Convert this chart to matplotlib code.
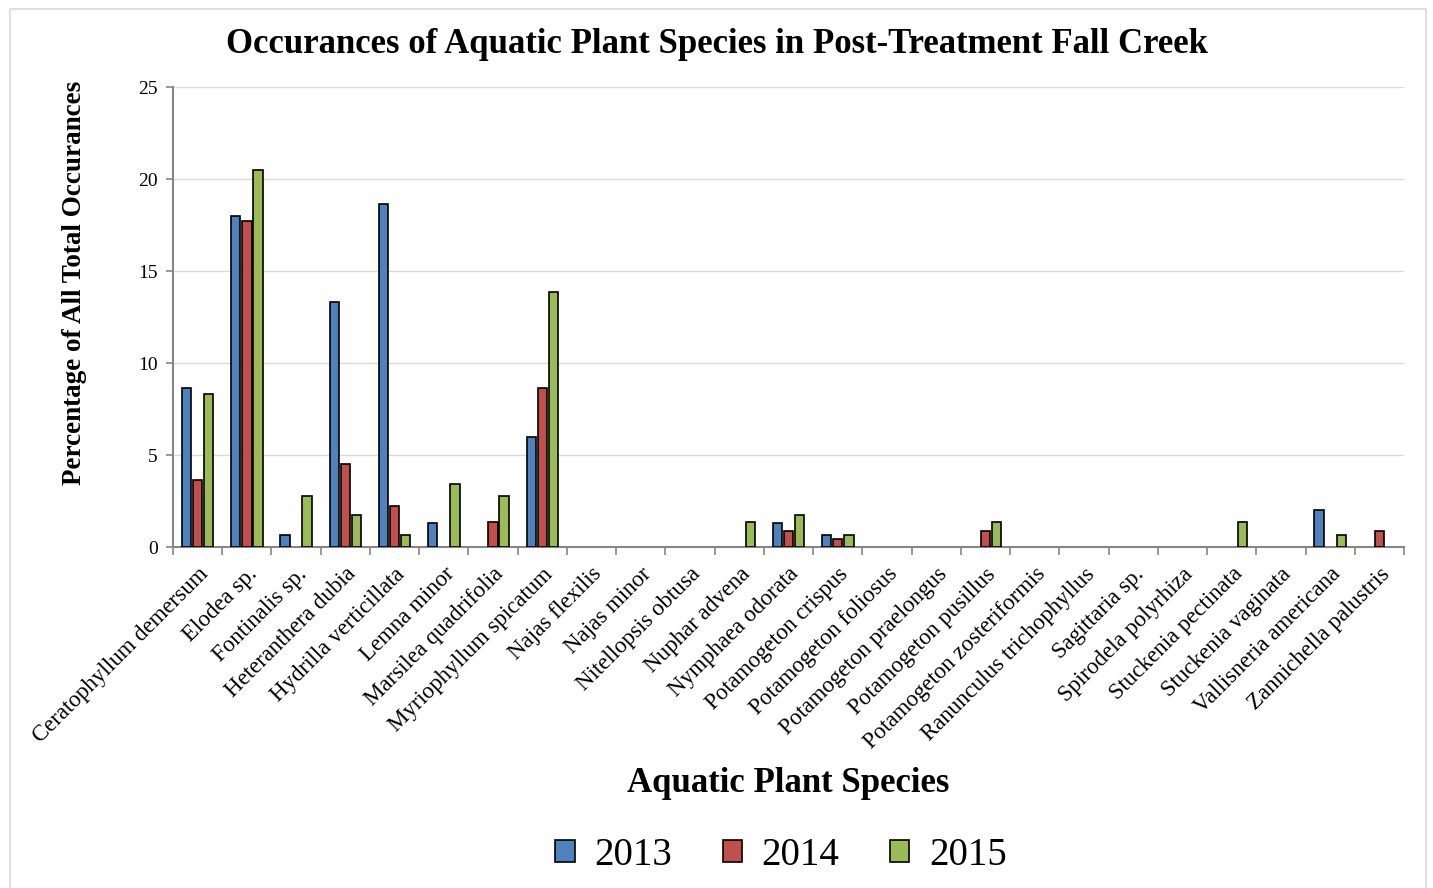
import numpy as np
import matplotlib.pyplot as plt
from matplotlib.patches import Rectangle

species = [
    "Ceratophyllum demersum", "Elodea sp.", "Fontinalis sp.", "Heteranthera dubia",
    "Hydrilla verticillata", "Lemna minor", "Marsilea quadrifolia",
    "Myriophyllum spicatum", "Najas flexilis", "Najas minor", "Nitellopsis obtusa",
    "Nuphar advena", "Nymphaea odorata", "Potamogeton crispus",
    "Potamogeton foliosus", "Potamogeton praelongus", "Potamogeton pusillus",
    "Potamogeton zosteriformis", "Ranunculus trichophyllus", "Sagittaria sp.",
    "Spirodela polyrhiza", "Stuckenia pectinata", "Stuckenia vaginata",
    "Vallisneria americana", "Zannichella palustris",
]
years = ["2013", "2014", "2015"]

vals_2013 = [8.65, 17.97, 0.65, 13.33, 18.65, 1.32, 0.0, 6.0, 0, 0, 0, 0.0, 1.32, 0.65,
             0, 0, 0.0, 0, 0, 0, 0, 0.0, 0, 1.99, 0.0]
vals_2014 = [3.62, 17.7, 0.0, 4.52, 2.24, 0.0, 1.34, 8.62, 0, 0, 0, 0.0, 0.89, 0.43,
             0, 0, 0.89, 0, 0, 0, 0, 0.0, 0, 0.0, 0.89]
vals_2015 = [8.32, 20.47, 2.77, 1.72, 0.67, 3.45, 2.77, 13.87, 0, 0, 0, 1.36, 1.74, 0.67,
             0, 0, 1.36, 0, 0, 0, 0, 1.36, 0, 0.67, 0.0]

colores = ["#4f81bd", "#c0504d", "#9bbb59"]

plt.rcParams["font.family"] = ["Liberation Serif", "DejaVu Serif"]

fig = plt.figure(figsize=(14.33, 8.88), dpi=100)
ax = fig.add_axes([0.1207, 0.384, 0.8591, 0.518])

x = np.arange(len(species))
w = 0.19
paso = 0.225
for i, (serie, col) in enumerate(zip([vals_2013, vals_2014, vals_2015], colores)):
    serie = np.array(serie, dtype=float)
    # las barras en cero no se dibujan (sin contorno)
    hay = serie > 0
    ax.bar(x[hay] + (i - 1) * paso, serie[hay], width=w, color=col, edgecolor="black",
           linewidth=1.2, label=years[i], zorder=3)

ax.set_xlim(-0.5, len(species) - 0.5)
ax.set_ylim(0, 25)
ax.set_yticks([0, 5, 10, 15, 20, 25])
ax.grid(axis="y", color="#d9d9d9", linewidth=1, zorder=0)

ax.set_xticks(x)
ax.set_xticklabels(species, rotation=45, ha="right", rotation_mode="anchor", fontsize=16.5)
ax.set_xticks(np.arange(-0.5, len(species)), minor=True)
ax.tick_params(axis="x", which="major", length=0, pad=12)
ax.tick_params(axis="x", which="minor", length=6, color="#868686", width=1.2)
ax.tick_params(axis="y", length=5, color="#868686", width=1.2, labelsize=14, pad=6)

for lado in ["top", "right"]:
    ax.spines[lado].set_visible(False)
for lado in ["left", "bottom"]:
    ax.spines[lado].set_color("#868686")
    ax.spines[lado].set_linewidth(1.5)

fig.text(0.5, 0.95, "Occurances of Aquatic Plant Species in Post-Treatment Fall Creek",
         ha="center", va="center", fontsize=25, fontweight="bold")
fig.text(0.55, 0.118, "Aquatic Plant Species", ha="center", va="center",
         fontsize=25, fontweight="bold")
fig.text(0.052, 0.682, "Percentage of All Total Occurances", ha="center", va="center",
         rotation=90, fontsize=19.5, fontweight="bold")

fig.legend(loc="center", bbox_to_anchor=(0.545, 0.037), ncol=3, frameon=False,
           fontsize=28, handlelength=0.5, handleheight=0.5, columnspacing=1.3,
           handletextpad=0.5)

fig.patches.append(Rectangle((0.007, -0.01), 0.988, 1.0, transform=fig.transFigure,
                             fill=False, edgecolor="#d9d9d9", linewidth=1.2))

plt.savefig("out.png", dpi=100)
